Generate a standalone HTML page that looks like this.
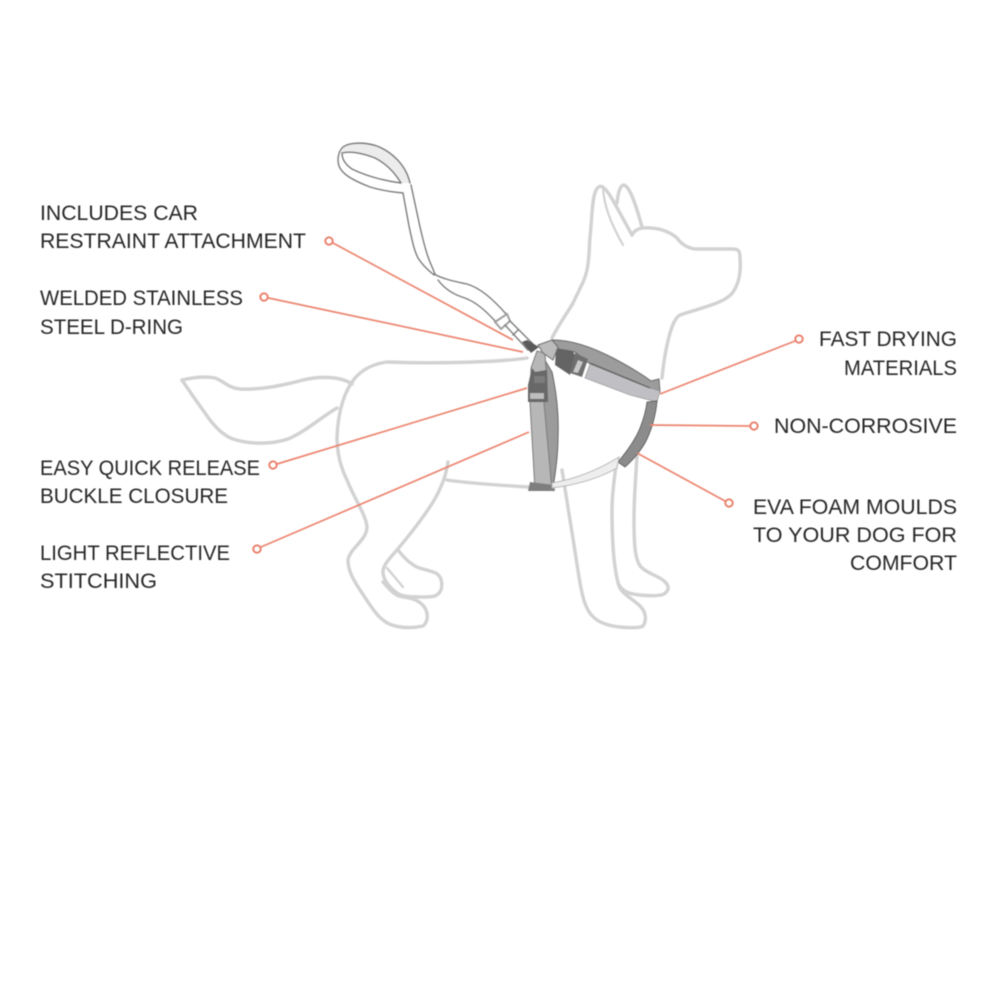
<!DOCTYPE html>
<html>
<head>
<meta charset="utf-8">
<style>
html,body{margin:0;padding:0;background:#fff;width:1000px;height:1000px;overflow:hidden}
svg{display:block;filter:blur(.5px)}
text{font-family:"Liberation Sans",sans-serif;font-size:21px;fill:#262626}
.d{fill:none;stroke:#d2d2d2;stroke-width:3.4;stroke-linecap:round;stroke-linejoin:round}
.l{fill:none;stroke:#ec8570;stroke-width:1.7}
.c{fill:#fff;stroke:#e97d68;stroke-width:1.9}
.s{fill:none;stroke:#7c7c7c;stroke-width:1.4;stroke-linecap:round;stroke-linejoin:round}
</style>
</head>
<body>
<svg width="1000" height="1000" viewBox="0 0 1000 1000" xmlns="http://www.w3.org/2000/svg">
<!-- dog -->
<path class="d" d="M552 338C560 322 568 312 573 303C580 288 585 280 587 270C590 255 589 245 590 237C592 220 592 200 595 193C597 186 601 185 604 188C610 193 618 210 632 235"/>
<path class="d" style="stroke-width:2.2" d="M603 188C604 205 610 222 623 245"/>
<path class="d" d="M617 203C618 193 620 185 624 185C630 187 636 205 642 227"/>
<path class="d" d="M632 235C634 231 637 229 642 228C655 227 668 230 677 238C682 245 688 248 695 249L733 249C739 249 740 252 740 258C741 270 740 282 733 292C726 303 700 308 680 315C674 318 670 330 666 350C664 360 663 368 662 378"/>
<path class="d" d="M527 358C500 362 440 364 387 362C372 364 362 370 355 378C345 390 338 410 337 437C337 455 342 470 347 480C355 500 366 515 367 527C367 540 350 548 348 560C348 572 355 582 360 590C368 602 376 615 383 620C392 628 410 629 423 626C428 622 428 615 426 610C423 603 415 598 403 597C395 596 390 590 383 582"/>
<path class="d" d="M448 462C446 475 443 483 437 495C428 512 412 532 397 550C390 558 383 565 383 572C383 580 390 588 397 593C402 597 412 597 425 597C434 597 438 596 441 590C443 582 441 574 433 572C425 569 418 569 412 564C406 560 402 555 398 550"/>
<path class="d" style="stroke-width:2.4" d="M387 568L403 587"/>
<path class="d" d="M447 480C460 482 480 484 528 487"/>
<path class="d" d="M182 380C195 377 205 376 215 378C224 381 228 388 240 389C260 390 285 385 303 380C320 376 340 376 352 384"/>
<path class="d" d="M182 380C190 392 197 402 205 413C213 425 222 435 233 439C248 444 270 445 288 439C305 432 320 418 337 408"/>
<path class="d" d="M562 470C566 495 570 520 574 545C578 570 581 595 586 606C591 618 600 625 620 627C630 628 640 628 643 626C647 620 646 612 640 606C633 599 623 595 619 586C614 570 612 540 612 510C612 495 614 480 616 466"/>
<path class="d" d="M619 585C623 592 630 594 640 595C650 596 660 596 664 594C670 590 669 585 664 581C659 576 648 574 641 567C635 560 634 545 634 520C634 495 636 475 637 455"/>
<!-- leash -->
<path d="M342 150C350 142 365 142 377 146C392 152 404 165 410 183L400 183C392 168 378 157 360 153C352 152 346 152 342 153Z" fill="#ececec"/>
<path class="s" d="M410 183C406 165 392 152 377 146C365 142 350 142 343 147C338 152 337 160 339 166C342 174 352 180 370 187C380 190 392 192 403 193"/>
<path class="s" d="M342 153C350 151 362 153 375 158C387 164 395 173 401 183C385 181 366 176 352 169C346 165 342 160 342 153"/>
<path class="s" d="M403 193L409 226C412 240 414 250 418 258C423 266 429 271 434 275"/>
<path class="s" d="M411 185L420 227C423 240 426 253 430 262L435 274"/>
<path class="s" d="M434 274C445 280 458 282 467 284C480 288 492 298 507 315"/>
<path class="s" d="M438 280C444 288 453 294 462 297C475 301 485 310 496 322"/>
<path d="M495 322L507 314L510 321L501 329Z" fill="#fff" stroke="#a0a0a0" stroke-width="2"/>
<path class="s" d="M505 325L528 350M510 321L534 345M513 335L518 330"/>
<path d="M522 342L527 340L539 347L531 353Z" fill="#5a5a5a"/>
<!-- harness -->
<path d="M543 357L552 372C557 395 559 415 558 437C558 455 556 470 553 487L544 487L543 360Z" fill="#9b9b9b" stroke="#666" stroke-width="1"/>
<path d="M537 351L545 353L546 370L544 403L552 490L535 490L530 403L531 368Z" fill="#b7b7b7" stroke="#7d7d7d" stroke-width="1"/>
<path d="M530 482L554 485L555 491L528 491Z" fill="#7e7e7e"/>
<path d="M532 368L535 372L547 370L548 402L528 402L528 385Z" fill="#686868"/>
<path d="M534 376L545 376L545 383L534 383Z" fill="#7d7d7d"/>
<rect x="530" y="393" width="14" height="6" fill="#bdbdbd"/>
<path d="M553 340C570 340 590 346 613 358C630 367 643 375 651 381L659 379L660 392L647 388L593 365L587 362L575 352L556 349Z" fill="#9c9c9c" stroke="#6a6a6a" stroke-width="1"/>
<path d="M590 364L647 387L660 391L657 402L630 395L585 378Z" fill="#c0c0c4" stroke="#8a8a8a" stroke-width=".6"/>
<path d="M590 363L650 388" fill="none" stroke="#5f5f5f" stroke-width="1.2"/>
<path d="M556 348L573 351L575 356L570 375L555 365Z" fill="#646464"/>
<path d="M575 353L588 359L582 377L570 373Z" fill="#6f6f6f"/>
<path d="M578 360L583 362L578 373L573 372Z" fill="#c8c8c8"/>
<path d="M538 345L552 340L558 347L553 360L543 353Z" fill="#bcbcbc" stroke="#6f6f6f" stroke-width="1"/>
<path d="M647 402L657 401C656 415 651 432 645 443C639 453 632 461 625 467L618 462C628 450 636 438 640 428C644 418 646 410 647 402Z" fill="#8c8c8c" stroke="#555" stroke-width=".8"/>
<path d="M552 483C575 479 598 470 619 457L617 468C598 479 575 485 552 488Z" fill="#eeeeee" stroke="#b5b5b5" stroke-width="1"/>
<!-- connectors -->
<path class="l" d="M333 243L513 340M268.500 298L523 352M277 464L527 388M261 547L529 432M795 341L660 394M750 426L650 425M725 501L637 453"/>
<circle class="c" cx="329" cy="241" r="3.700"/>
<circle class="c" cx="264" cy="297" r="3.700"/>
<circle class="c" cx="273" cy="465" r="3.700"/>
<circle class="c" cx="257" cy="549" r="3.700"/>
<circle class="c" cx="799" cy="339" r="3.700"/>
<circle class="c" cx="754" cy="426" r="3.700"/>
<circle class="c" cx="729" cy="503" r="3.700"/>
<!-- labels -->
<g>
<text x="40" y="220" textLength="158" lengthAdjust="spacingAndGlyphs">INCLUDES CAR</text>
<text x="40" y="248" textLength="266" lengthAdjust="spacingAndGlyphs">RESTRAINT ATTACHMENT</text>
<text x="40" y="305" textLength="203" lengthAdjust="spacingAndGlyphs">WELDED STAINLESS</text>
<text x="40" y="334" textLength="143" lengthAdjust="spacingAndGlyphs">STEEL D-RING</text>
<text x="40" y="475" textLength="220" lengthAdjust="spacingAndGlyphs">EASY QUICK RELEASE</text>
<text x="40" y="503" textLength="188" lengthAdjust="spacingAndGlyphs">BUCKLE CLOSURE</text>
<text x="40" y="560" textLength="190" lengthAdjust="spacingAndGlyphs">LIGHT REFLECTIVE</text>
<text x="40" y="588" textLength="117" lengthAdjust="spacingAndGlyphs">STITCHING</text>
<text x="819" y="346" textLength="138" lengthAdjust="spacingAndGlyphs">FAST DRYING</text>
<text x="844" y="375" textLength="113" lengthAdjust="spacingAndGlyphs">MATERIALS</text>
<text x="774" y="433" textLength="183" lengthAdjust="spacingAndGlyphs">NON-CORROSIVE</text>
<text x="753" y="514" textLength="204" lengthAdjust="spacingAndGlyphs">EVA FOAM MOULDS</text>
<text x="753" y="542" textLength="204" lengthAdjust="spacingAndGlyphs">TO YOUR DOG FOR</text>
<text x="850" y="570" textLength="107" lengthAdjust="spacingAndGlyphs">COMFORT</text>
</g>
</svg>
</body>
</html>
